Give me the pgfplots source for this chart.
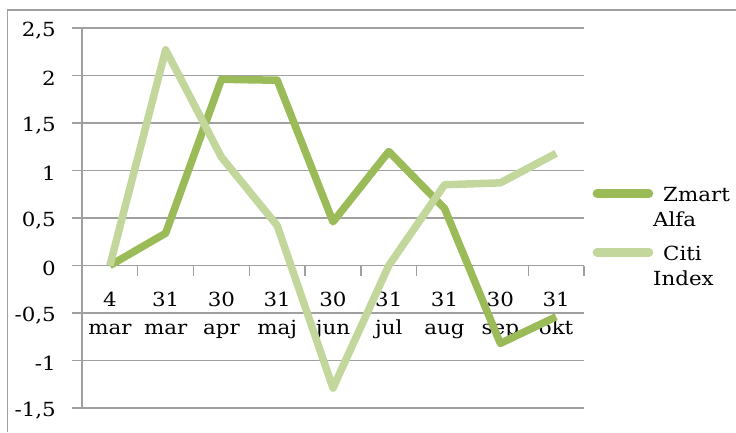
\documentclass[border=0pt]{standalone}
\usepackage{pgfplots}
\pgfplotsset{compat=1.18}
\usepackage{fontspec}
\setmainfont{DejaVu Serif}[FakeStretch=1.1]
\definecolor{dg}{HTML}{9BBB59}
\definecolor{lg}{HTML}{C3D69B}
\definecolor{gr}{HTML}{A0A0A0}
\begin{document}
\begin{tikzpicture}[x=1bp,y=1bp]
\useasboundingbox (0,0) rectangle (736,432);
\draw[gr, line width=1.5bp] (7.5,0) -- (7.5,422) -- (736,422);
\begin{axis}[
  at={(82bp,24bp)}, anchor=south west,
  width=502bp, height=380bp, scale only axis,
  xmin=-0.5, xmax=8.5, ymin=-1.5, ymax=2.5,
  axis x line=middle, axis y line=left,
  axis line style={gr, line width=1.3bp, -},
  ytick={-1.5,-1,-0.5,0,0.5,1,1.5,2,2.5},
  yticklabels={{-1,5},{-1},{-0,5},0,{0,5},1,{1,5},2,{2,5}},
  ymajorgrids, grid style={gr, line width=1.3bp},
  tick align=outside, major tick length=10bp,
  tick style={gr, line width=1.3bp},
  xtick={-0.5,0.5,1.5,2.5,3.5,4.5,5.5,6.5,7.5,8.5},
  xticklabels={},
  extra x ticks={0,1,2,3,4,5,6,7,8},
  extra x tick labels={{4\\mar},{31\\mar},{30\\apr},{31\\maj},{30\\jun},{31\\jul},{31\\aug},{30\\sep},{31\\okt}},
  extra x tick style={major tick length=0pt, grid=none},
  xticklabel style={align=center, anchor=north, inner sep=0pt, yshift=-26bp, font=\fontsize{19.5}{28}\selectfont},
  yticklabel style={anchor=east, inner sep=0pt, xshift=-16bp, yshift=-3bp, font=\fontsize{19.5}{24}\selectfont},
  legend style={draw=none, fill=none, at={(1,0.5)}, anchor=west, xshift=2bp, yshift=-19bp,
    font=\fontsize{19.5}{25}\selectfont, nodes={inner sep=0pt, align=left},
    row sep=18bp, column sep=0pt},
  legend cell align=left,
  legend image code/.code={\draw[#1, line width=8.5bp, line cap=round] (4bp,14bp) -- (56bp,14bp); \path (0bp,-14bp);},
  every axis plot/.append style={line width=7.5bp, line join=round},
]
\addplot[dg] coordinates {(0,0) (1,0.34) (2,1.96) (3,1.95) (4,0.46) (5,1.20) (6,0.60) (7,-0.82) (8,-0.54)};
\addlegendentry{\hspace*{10bp}Zmart\\Alfa}
\addplot[lg] coordinates {(0,0) (1,2.27) (2,1.14) (3,0.42) (4,-1.29) (5,0.0) (6,0.85) (7,0.87) (8,1.18)};
\addlegendentry{\hspace*{10bp}Citi\\Index}
\end{axis}
\end{tikzpicture}
\end{document}
